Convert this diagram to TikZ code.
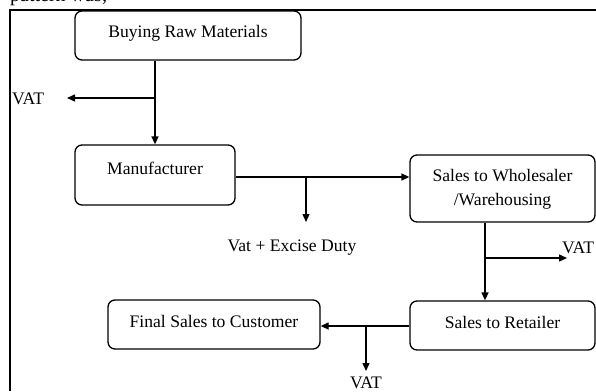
\documentclass[tikz,border=0pt]{standalone}
\usepackage{fontspec}
\setmainfont{Liberation Serif}
\usetikzlibrary{arrows.meta,calc}
\begin{document}
\begin{tikzpicture}[x=1pt,y=-1pt,
  box/.style={draw, line width=1.3pt, rounded corners=7pt, inner sep=0pt},
  lbl/.style={font=\fontsize{17.6}{24}\selectfont, inner sep=0pt},
  conn/.style={line width=1.3pt},
  arr/.style={conn,-{Triangle[length=8pt,width=7pt]}},
  frameline/.style={line width=1.5pt}]
\useasboundingbox (0,0) rectangle (596,391);
\clip (0,0) rectangle (596,391);
% cut-off heading
\node[anchor=base west, font=\fontsize{20}{24}\selectfont, inner sep=0pt] (head) at (10,1.5) {pattern was;};
% frame
\draw[frameline] (596,10) -- (10,10) -- (10,391);
% boxes
\node[box, minimum width=226pt, minimum height=49pt] (b1) at (188,35.5) {};
\node[box, minimum width=160pt, minimum height=60pt] (b2) at (155,175) {};
\node[box, minimum width=185pt, minimum height=67pt] (b3) at (502.5,188.5) {};
\node[box, minimum width=185pt, minimum height=49pt] (b4) at (502.5,325.5) {};
\node[box, minimum width=212pt, minimum height=49pt] (b5) at (214,324.5) {};
% box texts
\node[lbl] (t1) at (188,33) {Buying Raw Materials};
\node[lbl] (t2) at (155,168) {Manufacturer};
\node[lbl, align=center] (t3) at (502.5,189) {Sales to Wholesaler\\/Warehousing};
\node[lbl] (t4) at (502.5,322) {Sales to Retailer};
\node[lbl] (t5) at (214,321) {Final Sales to Customer};
% side labels
\node[lbl, anchor=west] (v1) at (12,99) {VAT};
\node[lbl] (v2) at (292,248) {Vat + Excise Duty};
\node[lbl, anchor=west] (v3) at (562,248) {VAT};
\node[lbl, anchor=base] (v4) at (366,388) {VAT};
% junctions and free ends
\coordinate (j1) at (155,98);
\coordinate (e1) at (67,98);
\coordinate (j2) at (306,177);
\coordinate (e2) at (306,222);
\coordinate (j3) at (485,258);
\coordinate (e3) at (567,258);
\coordinate (j4) at (366,326);
\coordinate (e4) at (366,371);
% connectors
\draw[arr] (b2.north |- b1.south) -- (b2.north);
\draw[arr] (j1) -- (e1);
\draw[arr] (b2.east |- j2) -- (b3.west |- j2);
\draw[arr] (j2) -- (e2);
\draw[arr] (b3.south -| j3) -- (b4.north -| j3);
\draw[arr] (j3) -- (e3);
\draw[arr] (b4.west |- j4) -- (b5.east |- j4);
\draw[arr] (j4) -- (e4);
\end{tikzpicture}
\end{document}
